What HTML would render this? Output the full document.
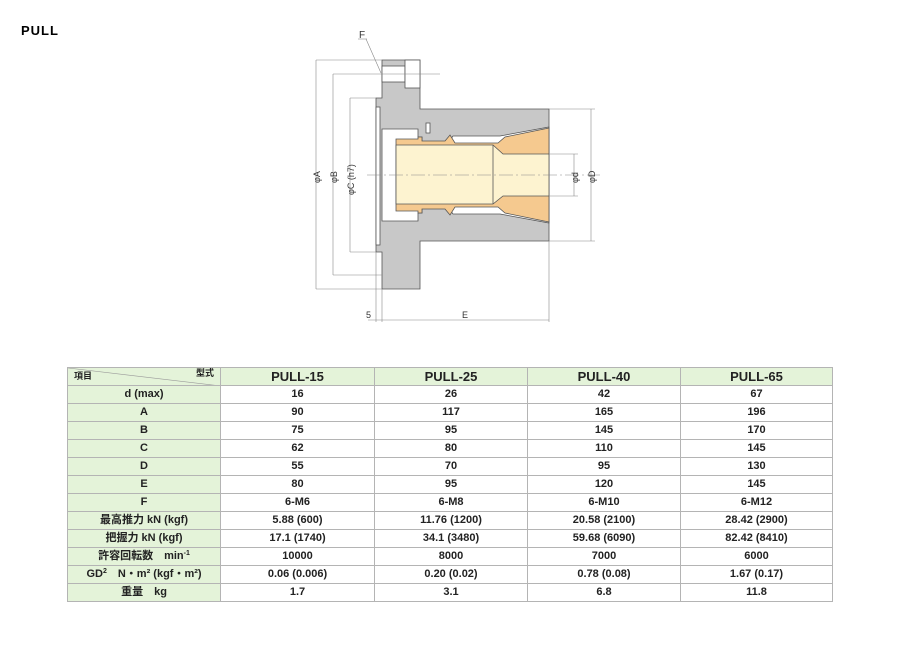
<!DOCTYPE html>
<html><head><meta charset="utf-8"><style>
body{margin:0;background:#fff;width:900px;height:666px;overflow:hidden;position:relative;font-family:"Liberation Sans","Noto Sans CJK JP",sans-serif}
.t{position:absolute;font-weight:bold}
table{position:absolute;left:67px;top:367px;border-collapse:collapse;table-layout:fixed}
td{border:1px solid #b4b4b4;height:17px;padding:0;text-align:center;font-size:11px;font-weight:bold;color:#222;line-height:17px;overflow:hidden;white-space:nowrap}
td.l{background:#e4f3d9}
tr.h td{font-size:13px}
tr.h td.v{background:#e4f3d9}
sup{font-size:7px;vertical-align:baseline;position:relative;top:-4px;line-height:0}
</style></head><body>
<div class="t" style="left:21px;top:23px;font-size:13px;letter-spacing:1px">PULL</div>
<svg width="900" height="340" style="position:absolute;left:0;top:0" font-family="Liberation Sans, sans-serif">
<g stroke="#555" stroke-width="0.8">
<path d="M382 60 H420 V109 H549 V241 H420 V289 H382 V252 H376 V98 H382 Z" fill="#c8c8c8"/>
<rect x="376" y="107" width="4" height="138" fill="#fff"/>
<path d="M382 129 H418 V137 H422 V143 L448 143 L453 136 L500 136 L549 127 V223 L500 214 L453 214 L448 207 L422 207 V213 H418 V221 H382 Z" fill="#fff"/>
<path d="M396 139 H418 V137 H422 V141 H445 L450 135 L455 143 H498 L505 137 L549 128 V222 L505 213 L498 207 H455 L450 215 L445 209 H422 V213 H418 V211 H396 Z" fill="#f5c98f"/>
<path d="M396 145 H493 L503 154 H549 V196 H503 L493 204 H396 Z" fill="#fdf3d0"/>
<line x1="493" y1="145" x2="493" y2="204"/>
<rect x="382" y="66" width="23" height="16" fill="#fff"/>
<rect x="405" y="60" width="15" height="28" fill="#fff"/>
<rect x="426" y="123" width="4" height="10" fill="#fff"/>
</g>
<g stroke="#888" stroke-width="0.6" fill="none">
<line x1="316" y1="60" x2="382" y2="60"/><line x1="316" y1="289" x2="382" y2="289"/>
<line x1="333" y1="74" x2="440" y2="74"/><line x1="333" y1="275" x2="382" y2="275"/>
<line x1="350" y1="98" x2="376" y2="98"/><line x1="350" y1="252" x2="376" y2="252"/>
<line x1="316" y1="60" x2="316" y2="289"/><line x1="333" y1="74" x2="333" y2="275"/><line x1="350" y1="98" x2="350" y2="252"/>
<line x1="549" y1="154" x2="578" y2="154"/><line x1="549" y1="196" x2="578" y2="196"/>
<line x1="549" y1="109" x2="595" y2="109"/><line x1="549" y1="241" x2="595" y2="241"/>
<line x1="574" y1="154" x2="574" y2="196"/><line x1="591" y1="109" x2="591" y2="241"/>
<line x1="376" y1="252" x2="376" y2="322"/><line x1="382" y1="289" x2="382" y2="322"/><line x1="549" y1="241" x2="549" y2="322"/>
<line x1="368" y1="320" x2="549" y2="320"/>
<line x1="366" y1="39" x2="381" y2="73"/><line x1="358" y1="39" x2="367" y2="39"/>
<line x1="367" y1="175" x2="600" y2="175" stroke-dasharray="14 3 2 3"/>
</g>
<g font-size="10" fill="#333">
<text x="359" y="38">F</text>
<text x="366" y="318" font-size="9">5</text>
<text x="462" y="318" font-size="9">E</text>
<text transform="translate(320,183) rotate(-90)" font-size="9">φA</text>
<text transform="translate(337,183) rotate(-90)" font-size="9">φB</text>
<text transform="translate(354,195) rotate(-90)" font-size="9">φC (h7)</text>
<text transform="translate(578,183) rotate(-90)" font-size="9">φd</text>
<text transform="translate(595,183) rotate(-90)" font-size="9">φD</text>
</g>
</svg>
<table>
<colgroup><col style="width:153px"><col style="width:154px"><col style="width:153px"><col style="width:153px"><col style="width:152px"></colgroup>
<tr class="h"><td class="l" style="position:relative;font-size:9px"><svg width="153" height="18" style="position:absolute;left:0;top:0"><line x1="0" y1="0" x2="153" y2="18" stroke="#999" stroke-width="0.6"/></svg><span style="position:absolute;left:6px;top:3px;line-height:11px">項目</span><span style="position:absolute;right:6px;top:0;line-height:11px">型式</span></td><td class="v">PULL-15</td><td class="v">PULL-25</td><td class="v">PULL-40</td><td class="v">PULL-65</td></tr>
<tr><td class="l">d (max)</td><td>16</td><td>26</td><td>42</td><td>67</td></tr>
<tr><td class="l">A</td><td>90</td><td>117</td><td>165</td><td>196</td></tr>
<tr><td class="l">B</td><td>75</td><td>95</td><td>145</td><td>170</td></tr>
<tr><td class="l">C</td><td>62</td><td>80</td><td>110</td><td>145</td></tr>
<tr><td class="l">D</td><td>55</td><td>70</td><td>95</td><td>130</td></tr>
<tr><td class="l">E</td><td>80</td><td>95</td><td>120</td><td>145</td></tr>
<tr><td class="l">F</td><td>6-M6</td><td>6-M8</td><td>6-M10</td><td>6-M12</td></tr>
<tr><td class="l">最高推力 kN (kgf)</td><td>5.88 (600)</td><td>11.76 (1200)</td><td>20.58 (2100)</td><td>28.42 (2900)</td></tr>
<tr><td class="l">把握力 kN (kgf)</td><td>17.1 (1740)</td><td>34.1 (3480)</td><td>59.68 (6090)</td><td>82.42 (8410)</td></tr>
<tr><td class="l">許容回転数　min<sup>-1</sup></td><td>10000</td><td>8000</td><td>7000</td><td>6000</td></tr>
<tr><td class="l">GD<sup>2</sup>　N・m² (kgf・m²)</td><td>0.06 (0.006)</td><td>0.20 (0.02)</td><td>0.78 (0.08)</td><td>1.67 (0.17)</td></tr>
<tr><td class="l">重量　kg</td><td>1.7</td><td>3.1</td><td>6.8</td><td>11.8</td></tr>
</table>
</body></html>
